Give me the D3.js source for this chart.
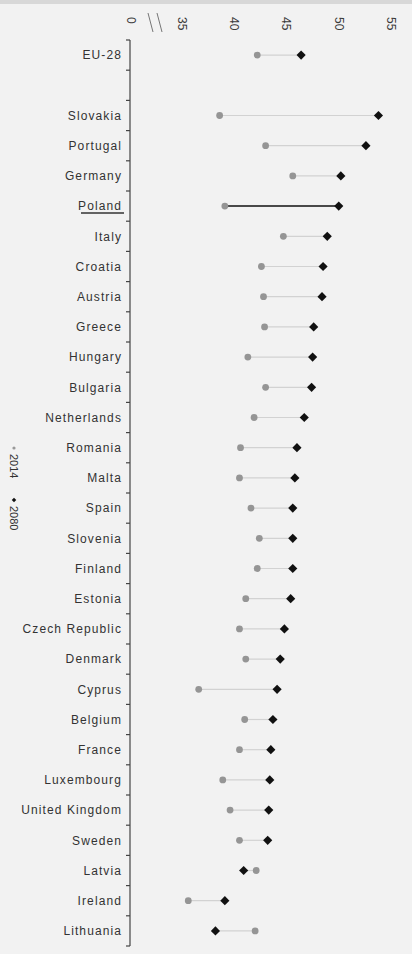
<!DOCTYPE html>
<html>
<head>
<meta charset="utf-8">
<script src="https://cdn.jsdelivr.net/npm/d3@7"></script>
<style>
  body { margin: 0; background: #f2f2f2; }
  svg { display: block; font-family: "Liberation Sans", Arial, sans-serif; }
</style>
</head>
<body>
<div id="chart"></div>
<script>
"use strict";

// categories top to bottom, " " is the empty slot below EU-28
var countries = ["EU-28", " ", "Slovakia", "Portugal", "Germany", "Poland", "Italy", "Croatia",
  "Austria", "Greece", "Hungary", "Bulgaria", "Netherlands", "Romania", "Malta", "Spain",
  "Slovenia", "Finland", "Estonia", "Czech Republic", "Denmark", "Cyprus", "Belgium", "France",
  "Luxembourg", "United Kingdom", "Sweden", "Latvia", "Ireland", "Lithuania"];

var v2014 = [42.2, null, 38.6, 43.0, 45.6, 39.1, 44.7, 42.6,
  42.8, 42.9, 41.3, 43.0, 41.9, 40.6, 40.5, 41.6,
  42.4, 42.2, 41.1, 40.5, 41.1, 36.6, 41.0, 40.5,
  38.9, 39.6, 40.5, 42.1, 35.6, 42.0];

var v2080 = [46.4, null, 53.8, 52.6, 50.2, 50.0, 48.9, 48.5,
  48.4, 47.6, 47.5, 47.4, 46.7, 46.0, 45.8, 45.6,
  45.6, 45.6, 45.4, 44.8, 44.4, 44.1, 43.7, 43.5,
  43.4, 43.3, 43.2, 40.9, 39.1, 38.2];

var xTicks = [35, 40, 45, 50, 55];
var legendLabels = ["2014", "2080"];
var highlight = "Poland";

var width = 412, height = 954;
var axisX = 130;

var x = d3.scaleLinear().domain([35, 55]).range([182, 391]);
var y = d3.scaleBand().domain(countries).range([40, 946]);

var svg = d3.select("#chart").append("svg")
  .attr("width", width).attr("height", height);

svg.append("rect").attr("width", width).attr("height", height).attr("fill", "#f2f2f2");
svg.append("rect").attr("width", width).attr("height", 4).attr("fill", "#d8d8d8");

// top value labels, rotated
var topLabels = svg.append("g").attr("font-size", 12).attr("fill", "#3a3a3a");
topLabels.selectAll("text.tick").data(xTicks).enter().append("text")
  .attr("transform", function (d) { return "translate(" + x(d) + ",17) rotate(90)"; })
  .attr("dy", "0.35em")
  .text(function (d) { return d; });
topLabels.append("text")
  .attr("transform", "translate(" + (axisX + 1) + ",17) rotate(90)")
  .attr("dy", "0.35em")
  .text("0");

// axis break marks
[0, 9].forEach(function (dx) {
  svg.append("line")
    .attr("x1", 148 + dx).attr("y1", 13)
    .attr("x2", 153 + dx).attr("y2", 32)
    .attr("stroke", "#555").attr("stroke-width", 0.8);
});

// vertical axis with ticks at band edges
svg.append("line")
  .attr("x1", axisX).attr("x2", axisX)
  .attr("y1", y.range()[0]).attr("y2", y.range()[1])
  .attr("stroke", "#444").attr("stroke-width", 1.2);

var edges = countries.map(function (c) { return y(c); }).concat([y.range()[1]]);
svg.selectAll("line.edge").data(edges).enter().append("line")
  .attr("class", "edge")
  .attr("x1", axisX - 4).attr("x2", axisX)
  .attr("y1", function (d) { return d; }).attr("y2", function (d) { return d; })
  .attr("stroke", "#444").attr("stroke-width", 1.2);

// category labels
var rows = countries.map(function (c, i) {
  return { name: c, a: v2014[i], b: v2080[i] };
});

svg.selectAll("text.cat").data(rows).enter().append("text")
  .attr("class", "cat")
  .attr("x", axisX - 8)
  .attr("y", function (d) { return y(d.name) + y.bandwidth() / 2; })
  .attr("dy", "0.35em")
  .attr("text-anchor", "end")
  .attr("font-size", 12)
  .attr("letter-spacing", 1.1)
  .attr("fill", "#333")
  .text(function (d) { return d.name.trim(); });

// underline highlighted country
svg.append("line")
  .attr("x1", 81).attr("x2", axisX - 6)
  .attr("y1", y(highlight) + y.bandwidth() / 2 + 7)
  .attr("y2", y(highlight) + y.bandwidth() / 2 + 7)
  .attr("stroke", "#333").attr("stroke-width", 1.5);

var data = rows.filter(function (d) { return d.a !== null; });
var cy = function (d) { return y(d.name) + y.bandwidth() / 2; };

// connecting lines
svg.selectAll("line.conn").data(data).enter().append("line")
  .attr("class", "conn")
  .attr("x1", function (d) { return x(d.a); })
  .attr("x2", function (d) { return x(d.b); })
  .attr("y1", cy).attr("y2", cy)
  .attr("stroke", function (d) { return d.name === highlight ? "#111" : "#d2d2d2"; })
  .attr("stroke-width", function (d) { return d.name === highlight ? 1.5 : 1.2; });

// 2014 dots
svg.selectAll("circle.p14").data(data).enter().append("circle")
  .attr("class", "p14")
  .attr("cx", function (d) { return x(d.a); })
  .attr("cy", cy)
  .attr("r", 3.4)
  .attr("fill", "#959595");

// 2080 diamonds
var diamond = d3.symbol().type(d3.symbolSquare).size(42);
svg.selectAll("path.p80").data(data).enter().append("path")
  .attr("class", "p80")
  .attr("d", diamond)
  .attr("transform", function (d) { return "translate(" + x(d.b) + "," + cy(d) + ") rotate(45)"; })
  .attr("fill", "#111");

// legend, rotated
var legend = svg.append("g").attr("transform", "translate(14,446) rotate(90)");
legend.append("circle").attr("cx", 2).attr("cy", 0).attr("r", 1.6).attr("fill", "#999");
legend.append("text").attr("x", 8).attr("dy", "0.35em").attr("font-size", 11)
  .attr("fill", "#333").text(legendLabels[0]);
legend.append("path").attr("d", d3.symbol().type(d3.symbolSquare).size(10))
  .attr("transform", "translate(54,0) rotate(45)").attr("fill", "#111");
legend.append("text").attr("x", 60).attr("dy", "0.35em").attr("font-size", 11)
  .attr("fill", "#333").text(legendLabels[1]);
</script>
</body>
</html>
